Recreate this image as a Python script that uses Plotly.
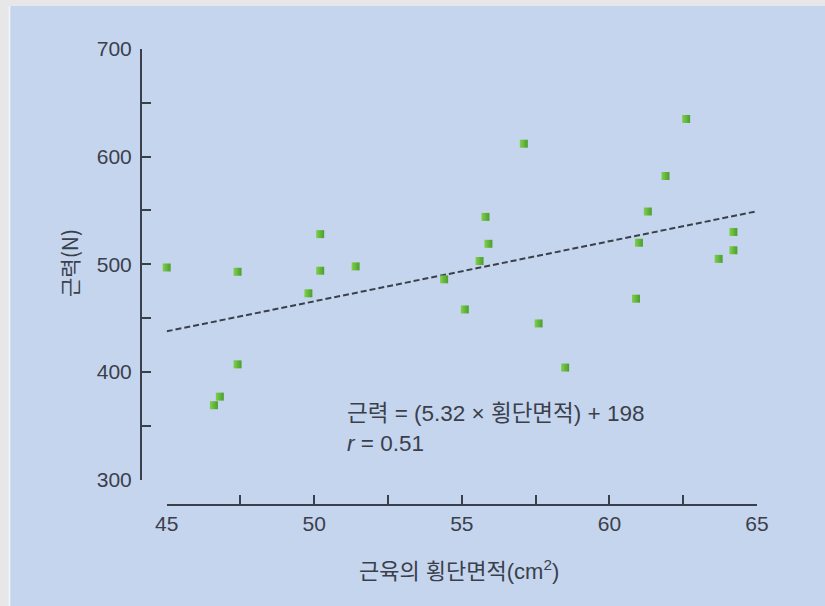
import plotly.graph_objects as go

# Data
area_cm2 = [45.0, 46.6, 46.8, 47.4, 47.4, 49.8, 50.2, 50.2, 51.4, 54.4, 55.1, 55.6, 55.9,
            55.8, 57.1, 57.6, 58.5, 60.9, 61.0, 61.3, 61.9, 62.6, 63.7, 64.2, 64.2]
force_n = [497, 369, 377, 407, 493, 473, 528, 494, 498, 486, 458, 503, 519,
           544, 612, 445, 404, 468, 520, 549, 582, 635, 505, 513, 530]
trend_x = [44.7, 64.95]
trend_y = [436, 549]
x_ticks = [45, 50, 55, 60, 65]
y_ticks = [300, 400, 500, 600, 700]

INK = "#3a404b"
BLUE = "#c6d5ee"
GRAY = "#e7e7e7"
FONT = "Liberation Sans, Noto Sans CJK KR, sans-serif"
KFONT = "Noto Sans CJK KR, Liberation Sans, sans-serif"

W, H = 825, 606
L, R, T, B = 141, 68, 49, 101
pw, ph = W - L - R, H - T - B


def px(xp):
    return (xp - L) / pw


def py(yp):
    return (H - B - yp) / ph


fig = go.Figure()
fig.add_trace(go.Scatter(
    x=trend_x, y=trend_y, mode="lines",
    line=dict(color=INK, width=2, dash="6px,3px"),
    hoverinfo="skip", showlegend=False, cliponaxis=False))
fig.add_trace(go.Scatter(
    x=area_cm2, y=force_n, mode="markers", cliponaxis=False,
    marker=dict(symbol="square", size=8, color="#7fcf4e",
                gradient=dict(type="horizontal", color="#4c9e2c"),
                line=dict(width=0)),
    showlegend=False))

axis_common = dict(showgrid=False, zeroline=False, showline=True, linecolor=INK,
                   linewidth=2, ticks="inside", ticklen=9, tickwidth=2, tickcolor=INK,
                   tickfont=dict(family=FONT, size=21, color=INK), automargin=False)

fig.update_layout(
    width=W, height=H,
    margin=dict(l=L, r=R, t=T, b=B, pad=0),
    paper_bgcolor=BLUE, plot_bgcolor="rgba(0,0,0,0)",
    xaxis=dict(range=[45, 65], tickvals=x_ticks, domain=[(166.7 - L) / pw, 1],
               anchor="free", position=0,
               minor=dict(dtick=2.5, tick0=45, ticks="inside", ticklen=9, tickwidth=2, tickcolor=INK),
               **axis_common),
    yaxis=dict(range=[300, 700], tickvals=y_ticks, domain=[(H - B - 479.5) / ph, 1],
               anchor="free", position=0, ticklabelstandoff=4,
               minor=dict(dtick=50, tick0=300, ticks="inside", ticklen=9, tickwidth=2, tickcolor=INK),
               **axis_common),
    shapes=[
        dict(type="rect", xref="paper", yref="paper", x0=px(0), x1=px(9), y0=py(H), y1=py(0),
             fillcolor=GRAY, line=dict(width=0), layer="below"),
        dict(type="rect", xref="paper", yref="paper", x0=px(0), x1=px(W), y0=py(6), y1=py(0),
             fillcolor=GRAY, line=dict(width=0), layer="below"),
        dict(type="line", xref="paper", yref="paper", x0=px(9.5), x1=px(9.5), y0=py(H), y1=py(6),
             line=dict(color="#f2f5fb", width=1.5), layer="below"),
    ],
    annotations=[
        dict(text="근력(N)", xref="paper", yref="paper", x=px(69), y=py(263),
             textangle=-90, showarrow=False, xanchor="center", yanchor="middle",
             font=dict(family=KFONT, size=21, color=INK)),
        dict(text="근육의 횡단면적(cm<sup>2</sup>)", xref="paper", yref="paper",
             x=px(459), y=py(570), showarrow=False, xanchor="center", yanchor="middle",
             font=dict(family=FONT, size=22, color=INK)),
        dict(text="근력 = (5.32 × 횡단면적) + 198", xref="paper", yref="paper",
             x=px(345), y=py(413), showarrow=False, xanchor="left", yanchor="middle",
             font=dict(family=FONT, size=22.5, color=INK)),
        dict(text="<i>r</i> = 0.51", xref="paper", yref="paper",
             x=px(345), y=py(443), showarrow=False, xanchor="left", yanchor="middle",
             font=dict(family=FONT, size=22.5, color=INK)),
    ],
)

fig.write_html("out.html", config={"displayModeBar": False},
               post_script="document.body.style.margin='0';document.body.style.overflow='hidden';")
